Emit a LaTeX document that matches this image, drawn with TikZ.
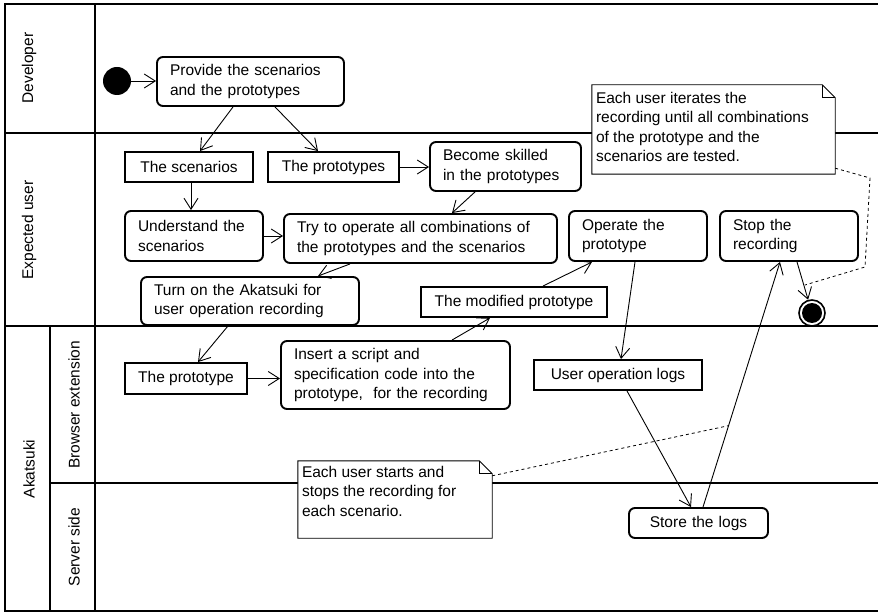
\documentclass[tikz,border=0pt]{standalone}
\usepackage{fontspec}
\setmainfont{Liberation Sans}
\usetikzlibrary{arrows.meta,calc}
\begin{document}
\begin{tikzpicture}[x=1pt,y=-1pt,
  lane/.style={line width=1.5pt},
  txt/.style={font=\fontsize{15.5}{19.5}\selectfont},
  act/.style={txt,draw,fill=white,line width=1.9pt,rounded corners=6pt,inner xsep=13pt,inner ysep=0pt,align=left},
  obj/.style={txt,draw,fill=white,line width=1.9pt,inner sep=0pt},
  notebox/.style={inner sep=0pt},
  noteline/.style={draw,line width=0.9pt,fill=white},
  notetxt/.style={txt,inner sep=0pt,anchor=north west,align=left},
  flow/.style={-{Straight Barb[length=11pt,width=14pt,line width=0.9pt]},line width=0.9pt},
  notelink/.style={dashed,line width=0.8pt},
  lanelabel/.style={txt,rotate=90}]
\useasboundingbox (0,0) rectangle (878,612);
% swimlanes
\draw[lane] (878,4) -- (5,4) -- (5,611) -- (878,611);
\draw[lane] (95,4) -- (95,611);
\draw[lane] (50,326) -- (50,611);
\draw[lane] (5,133) -- (878,133);
\draw[lane] (5,326) -- (878,326);
\draw[lane] (50,483) -- (878,483);
\node[lanelabel] (lDev) at (29,68) {Developer};
\node[lanelabel] (lUser) at (29,230) {Expected user};
\node[lanelabel] (lAka) at (29,469) {Akatsuki};
\node[lanelabel] (lBro) at (74,405) {Browser extension};
\node[lanelabel] (lSrv) at (74,547) {Server side};
% nodes
\node[circle,fill=black,inner sep=0pt,minimum size=28pt] (init) at (117,81) {};
\node[act,minimum height=49pt,text width=161pt] (provide) at (250.5,81.5) {Provide the scenarios\\and the prototypes};
\node[obj,minimum height=30pt,minimum width=128pt] (scen) at (189,167) {The scenarios};
\node[obj,minimum height=30pt,minimum width=131pt] (protos) at (333.5,167) {The prototypes};
\node[act,minimum height=49pt,text width=125pt] (skilled) at (505.5,166.5) {Become skilled\\in the prototypes};
\node[act,minimum height=50pt,text width=112pt] (und) at (194,236) {Understand the\\scenarios};
\node[act,minimum height=49pt,text width=247pt] (try) at (420.5,238.5) {Try to operate all combinations of\\the prototypes and the scenarios};
\node[act,minimum height=50pt,text width=112pt] (operate) at (638,236) {Operate the\\prototype};
\node[act,minimum height=50pt,text width=112pt] (stop) at (789,236) {Stop the\\recording};
\node[act,minimum height=48pt,text width=192pt] (turnon) at (250,301) {Turn on the Akatsuki for\\user operation recording};
\node[obj,minimum height=30pt,minimum width=186pt] (mod) at (514,302) {The modified prototype};
\node[obj,minimum height=31pt,minimum width=122pt] (proto1) at (186,378.5) {The prototype};
\node[act,minimum height=68pt,text width=203pt] (insert) at (395.5,375) {Insert a script and\\specification code into the\\prototype,\ \ for the recording};
\node[obj,minimum height=30pt,minimum width=168pt] (logs) at (618,375) {User operation logs};
\node[act,minimum height=30pt,text width=113pt,align=center] (store) at (698.5,523) {Store the logs};
\node[circle,draw,line width=1.6pt,minimum size=26pt,inner sep=0pt] (final) at (812,313) {};
\fill (final.center) circle (10pt);
% notes
\node[notebox,minimum width=243pt,minimum height=89pt] (n1) at (713.5,129.5) {};
\draw[noteline] (n1.north west) -- ([xshift=-13pt]n1.north east) -- ([yshift=-13pt]n1.north east) -- (n1.south east) -- (n1.south west) -- cycle;
\draw[line width=0.9pt] ([xshift=-13pt]n1.north east) -- ([xshift=-13pt,yshift=-13pt]n1.north east) -- ([yshift=-13pt]n1.north east);
\node[notetxt] (n1t) at ($(n1.north west)+(4,7)$) {Each user iterates the\\recording until all combinations\\of the prototype and the\\scenarios are tested.};
\node[notebox,minimum width=194pt,minimum height=77pt] (n2) at (395,499.5) {};
\draw[noteline] (n2.north west) -- ([xshift=-13pt]n2.north east) -- ([yshift=-13pt]n2.north east) -- (n2.south east) -- (n2.south west) -- cycle;
\draw[line width=0.9pt] ([xshift=-13pt]n2.north east) -- ([xshift=-13pt,yshift=-13pt]n2.north east) -- ([yshift=-13pt]n2.north east);
\node[notetxt] (n2t) at ($(n2.north west)+(4,5)$) {Each user starts and\\stops the recording for\\each scenario.};
% flows
\draw[flow] (init) -- (init.east -| provide.west);
\draw[flow] ([xshift=-17.5pt]provide.south) -- ([xshift=11pt]scen.north);
\draw[flow] ([xshift=24.5pt]provide.south) -- ([xshift=-15.5pt]protos.north);
\draw[flow] ([xshift=2pt]scen.south) -- ([xshift=-3pt]und.north);
\draw[flow] (protos.east) -- (protos.east -| skilled.west);
\draw[flow] (und.east) -- (und.east -| try.west);
\draw[flow] ([xshift=-30.5pt]skilled.south) -- ([xshift=31.5pt]try.north);
\draw[flow] ([xshift=-70.5pt]try.south) -- ([xshift=68pt]turnon.north);
\draw[flow] ([xshift=-22pt]turnon.south) -- ([xshift=12pt]proto1.north);
\draw[flow] (proto1.east) -- (proto1.east -| insert.west);
\draw[flow] ([xshift=56.5pt]insert.north) -- ([xshift=-24pt]mod.south);
\draw[flow] ([xshift=29pt]mod.north) -- ([xshift=-46pt]operate.south);
\draw[flow] ([xshift=-3pt]operate.south) -- ([xshift=3pt]logs.north);
\draw[flow] ([xshift=9pt]logs.south) -- ([xshift=-7.5pt]store.north);
\draw[flow] ([xshift=4.5pt]store.north) -- ([xshift=-9pt]stop.south);
\draw[flow] ([xshift=8pt]stop.south) -- (final);
% note links
\coordinate (d1) at (870,178);
\coordinate (d2) at (865,267);
\coordinate (d3) at (805,285);
\draw[notelink] ([yshift=6pt]n1.south east) -- (d1) -- (d2) -- (d3);
\coordinate (d4) at ($([xshift=4.5pt]store.north)!0.332!([xshift=-9pt]stop.south)$);
\draw[notelink] ([yshift=-15pt]n2.north east) -- (d4);
\end{tikzpicture}
\end{document}
